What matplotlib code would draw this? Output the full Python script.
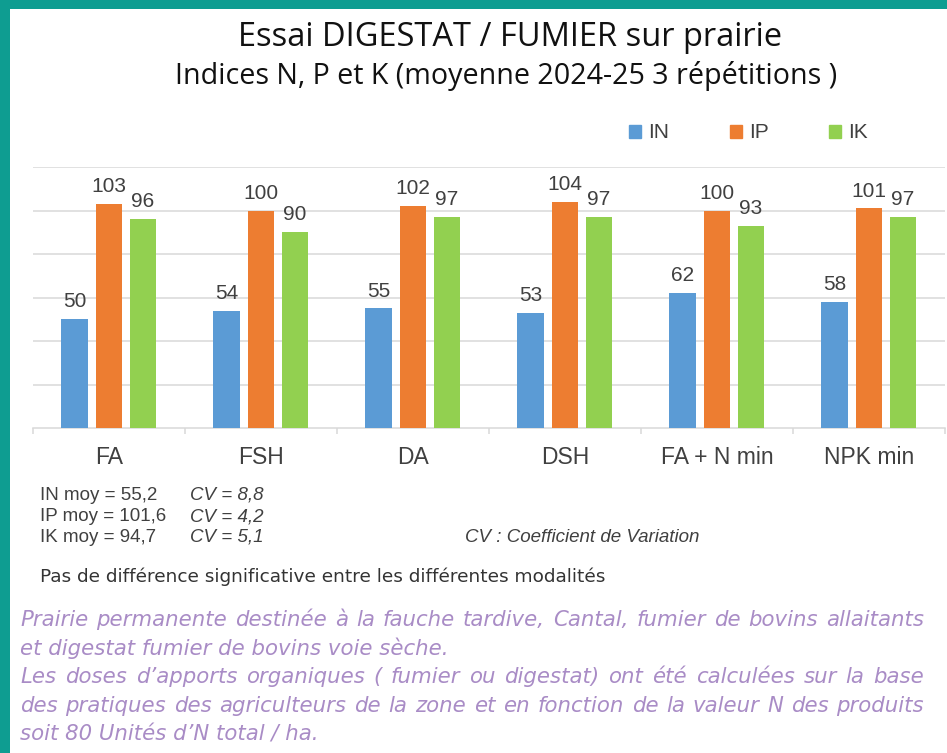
import matplotlib
matplotlib.use('Agg')
import matplotlib.pyplot as plt
from matplotlib.patches import Rectangle, Patch
import numpy as np

# Data
categories = ['FA', 'FSH', 'DA', 'DSH', 'FA + N min', 'NPK min']
series_names = ['IN', 'IP', 'IK']
IN = [50, 54, 55, 53, 62, 58]
IP = [103, 100, 102, 104, 100, 101]
IK = [96, 90, 97, 97, 93, 97]

title = 'Essai DIGESTAT / FUMIER sur prairie'
subtitle = 'Indices N, P et K (moyenne 2024-25 3 répétitions )'
stats_left = ['IN moy = 55,2', 'IP moy = 101,6', 'IK moy = 94,7']
stats_cv = ['CV = 8,8', 'CV = 4,2', 'CV = 5,1']
cv_note = 'CV : Coefficient de Variation'
no_diff = 'Pas de différence significative entre les différentes modalités'
paragraph = [
    ('Prairie permanente destinée à la fauche tardive, Cantal, fumier de bovins allaitants', True),
    ('et digestat fumier de bovins voie sèche.', False),
    ('Les doses d\u2019apports organiques ( fumier ou digestat) ont été calculées sur la base', True),
    ('des pratiques des agriculteurs de la zone et en fonction de la valeur N des produits', True),
    ('soit 80 Unités d\u2019N total / ha.', False),
]

colors = ['#5B9BD5', '#ED7D31', '#92D050']
teal = '#0E9D91'
purple = '#A98CC6'
gray = '#404040'
chart_font = ['Liberation Sans', 'DejaVu Sans']
deco_font = ['Open Sans', 'DejaVu Sans']
wide_font = ['DejaVu Sans']

W, H = 947, 753
fig = plt.figure(figsize=(W / 100, H / 100), dpi=100)
renderer = fig.canvas.get_renderer()


def fx(px):
    return px / W


def fy(py):
    return 1 - py / H


def text_width(s, size, **kw):
    t = fig.text(0, 0, s, fontsize=size, **kw)
    w = t.get_window_extent(renderer).width
    t.remove()
    return w


def fit_size(s, target, **kw):
    return 20 * target / text_width(s, 20, **kw)


# frame
fig.add_artist(Rectangle((0, 0), fx(10), 1, transform=fig.transFigure, color=teal, lw=0))
fig.add_artist(Rectangle((0, fy(9)), 1, 9 / H, transform=fig.transFigure, color=teal, lw=0))

# bar chart
ax = fig.add_axes([fx(33), fy(428), fx(945) - fx(33), fy(167) - fy(428)])
x = np.arange(len(categories))
offsets = [-0.226, 0.0, 0.224]
width = 0.176
for vals, name, col, off in zip([IN, IP, IK], series_names, colors, offsets):
    bars = ax.bar(x + off, vals, width, color=col, label=name, zorder=3)
    for b, v in zip(bars, vals):
        ax.annotate(str(v), (b.get_x() + b.get_width() / 2, v), xytext=(0, 8.5),
                    textcoords='offset points', ha='center', va='baseline',
                    fontsize=15, color=gray, family=chart_font)

ax.set_xlim(-0.5, 5.5)
ax.set_ylim(0, 120)
ax.set_yticks(range(20, 121, 20))
ax.yaxis.grid(True, color='#D9D9D9', lw=1.1, zorder=0)
ax.set_axisbelow(True)
ax.tick_params(axis='y', length=0, labelleft=False)
for s in ['top', 'right', 'left']:
    ax.spines[s].set_visible(False)
ax.spines['bottom'].set_color('#D9D9D9')
ax.spines['bottom'].set_linewidth(1.1)
ax.set_xticks(x)
ax.set_xticklabels(categories, fontsize=16.5, color=gray, family=chart_font)
ax.tick_params(axis='x', which='major', length=0, pad=13)
ax.set_xticks(np.arange(-0.5, 6, 1), minor=True)
ax.tick_params(axis='x', which='minor', length=4.5, color='#D9D9D9', width=1.1)

handles = [Patch(color=c) for c in colors]
fig.legend(handles, series_names, loc='center left', bbox_to_anchor=(fx(629), fy(133)),
           ncol=3, frameon=False, prop={'family': chart_font, 'size': 15}, labelcolor=gray,
           handlelength=0.58, handleheight=0.58, handletextpad=0.34, columnspacing=2.9,
           borderpad=0, borderaxespad=0)

# titles
fs = fit_size(title, 544, family=deco_font)
fig.text(fx(510), fy(37), title, fontsize=fs, family=deco_font, color='#111111', ha='center', va='center')
fs = fit_size(subtitle, 660, family=deco_font)
fig.text(fx(506), fy(76), subtitle, fontsize=fs, family=deco_font, color='#111111', ha='center', va='center')

# statistics block
for i, (a, b) in enumerate(zip(stats_left, stats_cv)):
    yb = fy(500 + 21 * i)
    fig.text(fx(40), yb, a, fontsize=13.5, family=chart_font, color=gray, va='baseline')
    fig.text(fx(190), yb, b, fontsize=13.5, family=chart_font, color=gray, va='baseline', style='italic')
fig.text(fx(465), fy(542), cv_note, fontsize=13.5, family=chart_font, color=gray,
         va='baseline', style='italic')

fs = fit_size(no_diff, 565, family=wide_font)
fig.text(fx(40), fy(577), no_diff, fontsize=fs, family=wide_font, color='#333333', va='center')

# italic paragraph, justified like the source
x0, x1 = 20, 924
para_kw = dict(family=wide_font, style='italic', color=purple)
fs = min(fit_size(line, x1 - x0, **para_kw) for line, just in paragraph if just) * 0.985
for i, (line, just) in enumerate(paragraph):
    yc = fy(620 + 28.5 * i)
    if not just:
        fig.text(fx(x0), yc, line, fontsize=fs, va='center', **para_kw)
        continue
    words = line.split(' ')
    widths = [text_width(w, fs, **para_kw) for w in words]
    gap = (x1 - x0 - sum(widths)) / (len(words) - 1)
    pos = x0
    for w, wd in zip(words, widths):
        fig.text(fx(pos), yc, w, fontsize=fs, va='center', **para_kw)
        pos += wd + gap

fig.savefig('out.png', dpi=100)
